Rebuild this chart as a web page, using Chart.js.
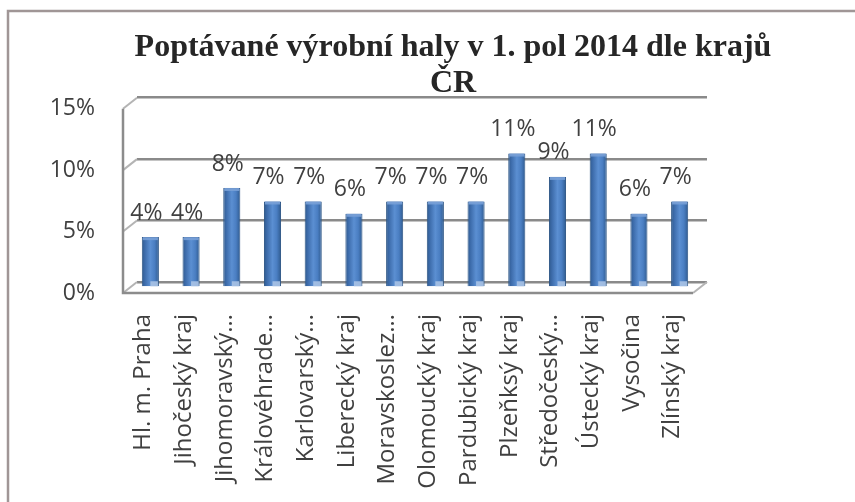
<!DOCTYPE html>
<html>
<head>
<meta charset="utf-8">
<script src="https://cdn.jsdelivr.net/npm/chart.js@4/dist/chart.umd.min.js"></script>
<style>
  html, body { margin: 0; padding: 0; background: #fff; overflow: hidden; }
  #wrap { width: 855px; height: 502px; position: relative; }
</style>
</head>
<body>
<div id="wrap"><canvas id="chartKraje"></canvas></div>
<script>
// ===============================
// DATA
// ===============================
const kraje = [
    "Hl. m. Praha", "Jihočeský kraj", "Jihomoravský kraj", "Královéhradecký kraj",
    "Karlovarský kraj", "Liberecký kraj", "Moravskoslezský kraj", "Olomoucký kraj",
    "Pardubický kraj", "Plzeňksý kraj", "Středočeský kraj", "Ústecký kraj",
    "Vysočina", "Zlínský kraj"
];
const podily = [4.1, 4.1, 8.1, 7.0, 7.0, 6.0, 7.0, 7.0, 7.0, 10.9, 9.0, 10.9, 6.0, 7.0];
const osaTicks = [0, 5, 10, 15];
const titulek = ["Poptávané výrobní haly v 1. pol 2014 dle krajů", "ČR"];

// hloubka 3D (predni hrana vuci zadni stene)
const DX = -14, DY = 11;
const SANS = "'Open Sans', 'Liberation Sans', sans-serif";
const VEL = 23;

// ===============================
// PLUGIN — ramecek, steny, podlaha
// ===============================
const steny = {
    id: "steny",
    beforeDraw(chart) {
        const { ctx } = chart;
        ctx.save();
        ctx.strokeStyle = "#a09696";
        ctx.lineWidth = 2.5;
        ctx.beginPath();
        ctx.moveTo(8, 510);
        ctx.lineTo(8, 11);
        ctx.lineTo(870, 11);
        ctx.stroke();
        ctx.restore();
    },
    afterDraw(chart) {
        const { ctx, chartArea: a, scales: { y } } = chart;
        const y0 = y.getPixelForValue(0);
        const yTop = y.getPixelForValue(osaTicks[osaTicks.length - 1]);
        ctx.save();
        // diagonaly leve steny
        ctx.strokeStyle = "#b4b4b4";
        ctx.lineWidth = 2;
        osaTicks.forEach(v => {
            const py = y.getPixelForValue(v);
            ctx.beginPath();
            ctx.moveTo(a.left, py);
            ctx.lineTo(a.left + DX, py + DY);
            ctx.stroke();
        });
        // prava diagonala podlahy
        ctx.beginPath();
        ctx.moveTo(a.right, y0);
        ctx.lineTo(a.right + DX, y0 + DY);
        ctx.stroke();
        // predni hrany
        ctx.strokeStyle = "#8c8c8c";
        ctx.lineWidth = 2.5;
        ctx.beginPath();
        ctx.moveTo(a.left + DX, yTop + DY);
        ctx.lineTo(a.left + DX, y0 + DY);
        ctx.lineTo(a.right + DX, y0 + DY);
        ctx.stroke();
        ctx.restore();
    },
    beforeDatasetsDraw(chart) {
        chart.ctx.save();
        chart.ctx.translate(DX / 2, DY / 2);
    },
    afterDatasetsDraw(chart) {
        const { ctx } = chart;
        const meta = chart.getDatasetMeta(0);
        // vrchni vicko sloupce
        meta.data.forEach(bar => {
            const w = bar.width;
            ctx.fillStyle = "rgba(120,160,215,0.9)";
            ctx.fillRect(bar.x - w / 2 + 1, bar.y, w - 2, 3);
            ctx.fillStyle = "rgba(170,195,230,0.9)";
            ctx.fillRect(bar.x, bar.base - 5, w / 2 - 1, 5);
        });
        ctx.restore();
        // popisky hodnot
        ctx.save();
        ctx.font = VEL + "px " + SANS;
        ctx.fillStyle = "#404040";
        ctx.textAlign = "center";
        ctx.textBaseline = "middle";
        meta.data.forEach((bar, i) => {
            ctx.fillText(Math.round(podily[i]) + "%", bar.x + DX / 2 - 4, bar.y + DY / 2 - 24);
        });
        ctx.restore();
    }
};

function barvaSloupce(c) {
    const x = c.chart.scales.x;
    if (!x || c.type !== "data") return "#4f81bd";
    const cx = x.getPixelForValue(c.dataIndex);
    const w = (x.width / kraje.length) * 0.42;
    if (!isFinite(cx) || !isFinite(w) || w <= 0) return "#4f81bd";
    const g = c.chart.ctx.createLinearGradient(cx - w / 2, 0, cx + w / 2, 0);
    g.addColorStop(0, "#2f5a8e");
    g.addColorStop(0.18, "#3d6cab");
    g.addColorStop(0.5, "#5b8fd2");
    g.addColorStop(0.75, "#4a7ec2");
    g.addColorStop(1, "#2f5a8e");
    return g;
}

// ===============================
// GRAF
// ===============================
new Chart(document.getElementById("chartKraje"), {
    type: "bar",
    data: {
        labels: kraje,
        datasets: [{
            data: podily,
            backgroundColor: barvaSloupce,
            borderColor: "#2e5686",
            borderWidth: 1,
            categoryPercentage: 1,
            barPercentage: 0.42
        }]
    },
    options: {
        responsive: true,
        maintainAspectRatio: false,
        animation: false,
        layout: { padding: { left: 51, right: 0, top: 0, bottom: 0 } },
        plugins: {
            legend: { display: false },
            tooltip: { enabled: false },
            title: {
                display: true,
                text: titulek,
                color: "#262626",
                font: { family: "'Liberation Serif', 'Times New Roman', serif", size: 32, weight: "bold", lineHeight: 1.12 },
                padding: { top: 30, bottom: -4 }
            }
        },
        scales: {
            x: {
                grid: { display: false },
                border: { display: false },
                ticks: {
                    autoSkip: false,
                    minRotation: 90,
                    maxRotation: 90,
                    padding: 24,
                    labelOffset: DX,
                    color: "#404040",
                    font: { family: SANS, size: 24 },
                    callback: function (v) {
                        const s = this.getLabelForValue(v);
                        return s.length > 15 ? s.slice(0, 12).trimEnd() + "…" : s;
                    }
                },
                afterFit: s => { s.height = 220; }
            },
            y: {
                min: 0,
                max: 15,
                afterBuildTicks: s => { s.ticks = osaTicks.map(v => ({ value: v })); },
                grid: { color: "#8a8a8a", lineWidth: 2.5, drawTicks: false },
                border: { display: false },
                ticks: {
                    padding: 42,
                    labelOffset: DY,
                    color: "#404040",
                    font: { family: SANS, size: VEL },
                    callback: v => v + "%"
                },
                afterFit: s => { s.width = 86; }
            },
            yPravo: {
                position: "right",
                grid: { display: false },
                border: { display: false },
                ticks: { display: false },
                afterFit: s => { s.width = 148; }
            }
        }
    },
    plugins: [steny]
});
</script>
</body>
</html>
